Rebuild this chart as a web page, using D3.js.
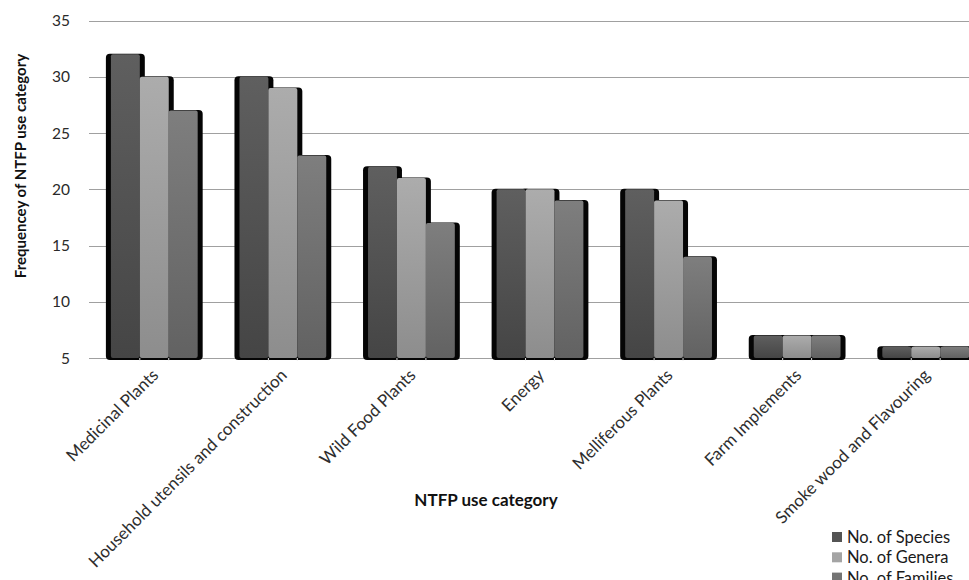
<!DOCTYPE html>
<html>
<head>
<meta charset="utf-8">
<script src="https://cdn.jsdelivr.net/npm/d3@7"></script>
<style>
  html, body { margin: 0; padding: 0; background: #fff; overflow: hidden; }
  svg { display: block; font-family: Lato, "Open Sans", sans-serif; }
</style>
</head>
<body>
<svg id="chart" width="969" height="580"></svg>
<script>
const categories = ["Medicinal Plants", "Household utensils and construction", "Wild Food Plants", "Energy", "Melliferous Plants", "Farm Implements", "Smoke wood and Flavouring"];
const seriesNames = ["No. of Species", "No. of Genera", "No. of Families"];
const species  = [32, 30, 22, 20, 20, 7, 6];
const genera   = [30, 29, 21, 20, 19, 7, 6];
const families = [27, 23, 17, 19, 14, 7, 6];
const yTicks = [5, 10, 15, 20, 25, 30, 35];
const yLabel = "Frequencey of NTFP use category";
const xLabel = "NTFP use category";

(function () {
const seriesValues = [species, genera, families];
const gradTop = ["#5f5f5f", "#acacac", "#7e7e7e"];
const gradBot = ["#454545", "#8d8d8d", "#626262"];
const legendFill = ["#545454", "#a4a4a4", "#747474"];

const svg = d3.select("#chart");
const defs = svg.append("defs");
seriesNames.forEach((s, i) => {
  const g = defs.append("linearGradient").attr("id", "g" + i)
    .attr("x1", 0).attr("y1", 0).attr("x2", 0).attr("y2", 1);
  g.append("stop").attr("offset", "0%").attr("stop-color", gradTop[i]);
  g.append("stop").attr("offset", "100%").attr("stop-color", gradBot[i]);
});

const pLeft = 90, pRight = 990, pTop = 20.5, pBottom = 358;
const x0 = d3.scaleBand().domain(categories).range([pLeft, pRight]).paddingInner(0.325).paddingOuter(0.1625);
const x1 = d3.scaleBand().domain(seriesNames).range([0, x0.bandwidth()]).padding(0);
const y = d3.scaleLinear().domain([5, 35]).range([pBottom, pTop]);

// gridlines
svg.append("g").selectAll("line").data(yTicks).join("line")
  .attr("x1", pLeft - 1).attr("x2", 969)
  .attr("y1", d => Math.round(y(d)) + 0.5).attr("y2", d => Math.round(y(d)) + 0.5)
  .attr("stroke", "#a0a0a0").attr("stroke-width", 1.2);

// y tick labels
svg.append("g").selectAll("text").data(yTicks).join("text")
  .attr("x", 70).attr("y", d => y(d)).attr("dy", "0.36em")
  .attr("text-anchor", "end").attr("font-size", 15.5).attr("fill", "#2a2a2a")
  .text(d => d);

const bars = [];
categories.forEach((c, ci) => {
  seriesNames.forEach((s, si) => {
    bars.push({ c, s, si, v: seriesValues[si][ci] });
  });
});

// shadows first
svg.append("g").selectAll("rect").data(bars).join("rect")
  .attr("x", d => x0(d.c) + x1(d.s) - 5)
  .attr("y", d => y(d.v) - 0.5)
  .attr("width", x1.bandwidth() + 10)
  .attr("height", d => pBottom - y(d.v) + 2.5)
  .attr("rx", 4).attr("ry", 4)
  .attr("fill", "#050505");

// fills
svg.append("g").selectAll("rect").data(bars).join("rect")
  .attr("x", d => x0(d.c) + x1(d.s))
  .attr("y", d => y(d.v))
  .attr("width", x1.bandwidth())
  .attr("height", d => pBottom - y(d.v))
  .attr("rx", 2).attr("ry", 2)
  .attr("fill", d => "url(#g" + d.si + ")");

// thin separators at bar bottoms
svg.append("g").selectAll("line").data(bars.filter(d => d.si > 0)).join("line")
  .attr("x1", d => x0(d.c) + x1(d.s)).attr("x2", d => x0(d.c) + x1(d.s))
  .attr("y1", pBottom).attr("y2", pBottom + 2.5)
  .attr("stroke", "#ddd").attr("stroke-width", 1);

// x tick labels
svg.append("g").selectAll("text").data(categories).join("text")
  .attr("transform", d => `translate(${x0(d) + x0.bandwidth() / 2 + 1},${pBottom + 14}) rotate(-45)`)
  .attr("text-anchor", "end").attr("dy", "0.35em")
  .attr("font-size", 17).attr("fill", "#2e2e2e")
  .text(d => d);

// axis titles
svg.append("text")
  .attr("transform", `translate(21,166) rotate(-90)`)
  .attr("text-anchor", "middle").attr("dy", "0.35em")
  .attr("font-size", 15).attr("font-weight", "bold").attr("fill", "#111")
  .text(yLabel);

svg.append("text")
  .attr("x", 486).attr("y", 500).attr("dy", "0.35em")
  .attr("text-anchor", "middle")
  .attr("font-size", 17).attr("font-weight", "bold").attr("fill", "#111")
  .text(xLabel);

// legend
const leg = svg.append("g").selectAll("g").data(seriesNames).join("g")
  .attr("transform", (d, i) => `translate(832,${532 + i * 20.3})`);
leg.append("rect").attr("width", 10).attr("height", 10)
  .attr("fill", (d, i) => legendFill[i]);
leg.append("text").attr("x", 15).attr("y", 11)
  .attr("font-size", 16.5).attr("fill", "#1a1a1a").text(d => d);
})();
</script>
</body>
</html>
